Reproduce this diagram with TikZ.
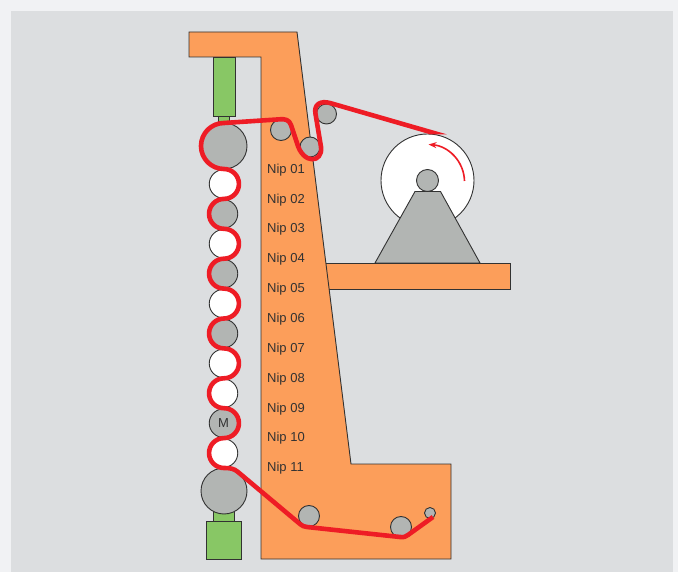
\documentclass[tikz,border=0pt]{standalone}
\usepackage{fontspec}
\setmainfont{Liberation Sans}
\usepackage{xcolor}
\usetikzlibrary{arrows.meta,positioning}
\definecolor{pagegray}{RGB}{241,242,244}
\definecolor{panelgray}{RGB}{220,222,224}
\definecolor{frameorange}{RGB}{252,158,90}
\definecolor{ramgreen}{RGB}{136,199,101}
\definecolor{rollgray}{RGB}{178,181,179}
\definecolor{webred}{RGB}{238,28,37}
\definecolor{edgegray}{RGB}{50,50,50}
\tikzset{
    part/.style={draw=edgegray, line width=0.9pt, line join=miter},
    graypart/.style={part, fill=rollgray},
    roller/.style={circle, draw=edgegray, line width=0.9pt, inner sep=0pt, fill=rollgray},
    whiteroller/.style={roller, fill=white},
    niplabel/.style={anchor=base west, inner sep=0pt, text=edgegray, font=\fontsize{13}{15}\selectfont},
    web/.style={draw=webred, line width=4.6pt, line join=round}
}

\begin{document}
\begin{tikzpicture}[x=1pt, y=-1pt]
    \useasboundingbox (0,0) rectangle (678,572);
    % Background
    \fill[pagegray] (0,0) rectangle (678,572);
    \fill[panelgray] (11,11) rectangle (673,572);

    % Frame and shelf
    \draw[part, fill=frameorange] (320,263) -- (510,263) -- (510,289) -- (320,289) -- cycle;
    \draw[part, fill=frameorange] (189,32) -- (297,32) -- (351,464) -- (451,464) -- (451,559)
        -- (261,559) -- (261,57) -- (189,57) -- cycle;

    % Cylinders
    \draw[part, fill=ramgreen] (218.5,116) rectangle (229.5,123);
    \draw[part, fill=ramgreen] (213,57) rectangle (235,116);
    \draw[part, fill=ramgreen] (213,510) rectangle (234,521);
    \draw[part, fill=ramgreen] (206,521) rectangle (241,559);

    % Unwind reel
    \node[whiteroller, minimum size=93pt] (reel) at (427.5,180.5) {};
    \draw[graypart] (415,191.5) -- (440.5,191.5) -- (480,263) -- (375,263) -- cycle;
    \node[roller, minimum size=22pt] (hub) at (427.5,180.5) {};

    % Calender stack
    \node[roller, minimum size=46pt] (toproll) at (224,146) {};
    \node[roller, minimum size=46pt] (bottomroll) at (224,491) {};
    \foreach \n/\yy/\kind in {1/184/whiteroller, 2/213.9/roller, 3/243.8/whiteroller, 4/273.7/roller,
        5/303.6/whiteroller, 6/333.5/roller, 7/363.4/whiteroller, 8/393.3/whiteroller, 10/453.1/whiteroller} {
        \node[\kind, minimum size=28.5pt] (stack\n) at (223.5,\yy) {};
    }
    \node[roller, minimum size=28.5pt, text=edgegray, font=\fontsize{13}{15}\selectfont] (motor) at (223.5,423.2) {M};

    % Guide rollers
    \node[roller, minimum size=21pt] (guidea) at (281,130) {};
    \node[roller, minimum size=20pt] (guideb) at (310,147) {};
    \node[roller, minimum size=20pt] (guidec) at (326.5,114) {};
    \node[roller, minimum size=21pt] (guided) at (309,516) {};
    \node[roller, minimum size=21pt] (guidee) at (401,527) {};
    \node[roller, minimum size=11pt] (guidef) at (430,513) {};

    % Nip labels
    \foreach \n/\yy in {01/173.2, 02/203.1, 03/233, 04/262.9, 05/292.8, 06/322.7,
        07/352.6, 08/382.5, 09/412.4, 10/441.7, 11/471.6} {
        \node[niplabel] (nip\n) at (267,\yy) {Nip \n};
    }

    % Web
    \begin{scope}
        \clip (0,0) -- (678,0) -- (678,134.5) -- (420,134.5) -- (420,400) -- (678,400) -- (678,572) -- (0,572) -- cycle;
        \draw[web] (446,136.5) -- (330,103) .. controls (321,100.5) and (313.5,104) .. (315.5,114)
            -- (321,147) .. controls (323,163) and (303,165) .. (297,143)
            -- (291,125) .. controls (289,119.5) and (285,119) .. (280,119.3)
            -- (224,123) arc (270:90:23)
            \foreach \a/\b in {-90/90, 270/90, -90/90, 270/90, -90/90, 270/90, -90/90, 270/90, -90/90, 270/90} {
                arc (\a:\b:14.95)
            }
            .. controls (230,468) and (234,468.5) .. (238,472)
            -- (300,524) .. controls (302,526) and (304,526.5) .. (307,527)
            -- (400,537) .. controls (404,537.5) and (406,536.5) .. (408,535) -- (433,517);
    \end{scope}

    % Rotation arrow
    \draw[webred, line width=1.6pt, -{Stealth[length=8pt, width=6pt]}]
        (464.5,181) .. controls (464,161) and (448,146) .. (428.5,144.5);
\end{tikzpicture}
\end{document}
